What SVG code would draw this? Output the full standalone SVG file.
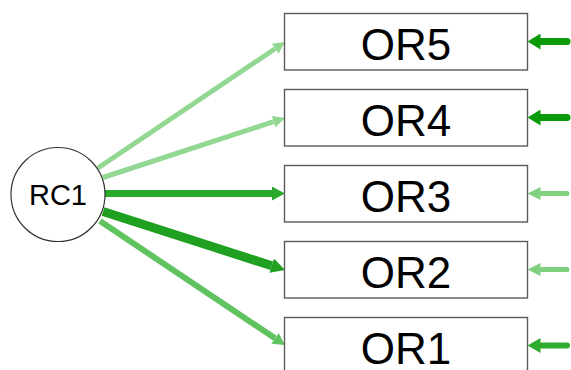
<svg xmlns="http://www.w3.org/2000/svg" width="571" height="370" viewBox="0 0 571 370">
<style>
.box{fill:#ffffff;stroke:#5a5a5a;stroke-width:1.4}
.circ{fill:#ffffff;stroke:#333333;stroke-width:1.2}
.lbl{font-family:"Liberation Sans",Arial,sans-serif;font-size:44px;fill:#000;text-anchor:middle}
.lblc{font-family:"Liberation Sans",Arial,sans-serif;font-size:29px;fill:#000;text-anchor:middle}
line{fill:none}
</style>
<defs>
<marker id="hL" viewBox="0 -6 12 12" refX="0" refY="0" markerWidth="12" markerHeight="12" markerUnits="userSpaceOnUse" orient="auto"><path d="M0,-6 L12,0 L0,6 z" fill="#92d892"/></marker>
<marker id="hM" viewBox="0 -6.5 12 13" refX="0" refY="0" markerWidth="12" markerHeight="13" markerUnits="userSpaceOnUse" orient="auto"><path d="M0,-6.5 L12,0 L0,6.5 z" fill="#5fc35f"/></marker>
<marker id="hD" viewBox="0 -7 13 14" refX="0" refY="0" markerWidth="13" markerHeight="14" markerUnits="userSpaceOnUse" orient="auto"><path d="M0,-7 L13,0 L0,7 z" fill="#2aaa2a"/></marker>
<marker id="hX" viewBox="0 -7.5 14 15" refX="0" refY="0" markerWidth="14" markerHeight="15" markerUnits="userSpaceOnUse" orient="auto"><path d="M0,-7.5 L14,0 L0,7.5 z" fill="#20a020"/></marker>
<marker id="rD" viewBox="0 -8 13 16" refX="0" refY="0" markerWidth="13" markerHeight="16" markerUnits="userSpaceOnUse" orient="auto"><path d="M0,-8 L13,0 L0,8 z" fill="#0a9a0a"/></marker>
<marker id="rL" viewBox="0 -6.5 13 13" refX="0" refY="0" markerWidth="13" markerHeight="13" markerUnits="userSpaceOnUse" orient="auto"><path d="M0,-6.5 L13,0 L0,6.5 z" fill="#80d080"/></marker>
<marker id="rM" viewBox="0 -7.5 13 15" refX="0" refY="0" markerWidth="13" markerHeight="15" markerUnits="userSpaceOnUse" orient="auto"><path d="M0,-7.5 L13,0 L0,7.5 z" fill="#2eac2e"/></marker>
</defs>
<g id="connectors">
<line x1="98" y1="168" x2="275.1" y2="48.7" stroke="#92d892" stroke-width="5" marker-end="url(#hL)"/>
<line x1="103" y1="177.5" x2="273.6" y2="121.7" stroke="#92d892" stroke-width="5" marker-end="url(#hL)"/>
<line x1="104" y1="193.5" x2="272" y2="193.5" stroke="#2aaa2a" stroke-width="7" marker-end="url(#hD)"/>
<line x1="103" y1="211.5" x2="271.7" y2="265.7" stroke="#20a020" stroke-width="9" marker-end="url(#hX)"/>
<line x1="100" y1="221" x2="275" y2="338.3" stroke="#5fc35f" stroke-width="6" marker-end="url(#hM)"/>
<line x1="567" y1="41.5" x2="540.5" y2="41.5" stroke="#0a9a0a" stroke-width="7" stroke-linecap="round" marker-end="url(#rD)"/>
<line x1="567" y1="117.5" x2="540.5" y2="117.5" stroke="#0a9a0a" stroke-width="7" stroke-linecap="round" marker-end="url(#rD)"/>
<line x1="567" y1="193.5" x2="540.5" y2="193.5" stroke="#80d080" stroke-width="5" stroke-linecap="round" marker-end="url(#rL)"/>
<line x1="567" y1="269.5" x2="540.5" y2="269.5" stroke="#80d080" stroke-width="5" stroke-linecap="round" marker-end="url(#rL)"/>
<line x1="567" y1="345.5" x2="540.5" y2="345.5" stroke="#2eac2e" stroke-width="6" stroke-linecap="round" marker-end="url(#rM)"/>
</g>
<g id="RC1"><circle class="circ" cx="58" cy="194.5" r="47"/><text class="lblc" x="58" y="205">RC1</text></g>
<g id="OR5"><rect class="box" x="284.5" y="13.5" width="243" height="56.5"/><text class="lbl" x="406" y="59.5">OR5</text></g>
<g id="OR4"><rect class="box" x="284.5" y="89.5" width="243" height="56.5"/><text class="lbl" x="406" y="135.5">OR4</text></g>
<g id="OR3"><rect class="box" x="284.5" y="165.5" width="243" height="56.5"/><text class="lbl" x="406" y="211.5">OR3</text></g>
<g id="OR2"><rect class="box" x="284.5" y="241.5" width="243" height="56.5"/><text class="lbl" x="406" y="287.5">OR2</text></g>
<g id="OR1"><rect class="box" x="284.5" y="317.5" width="243" height="56.5"/><text class="lbl" x="406" y="363.5">OR1</text></g>
</svg>
